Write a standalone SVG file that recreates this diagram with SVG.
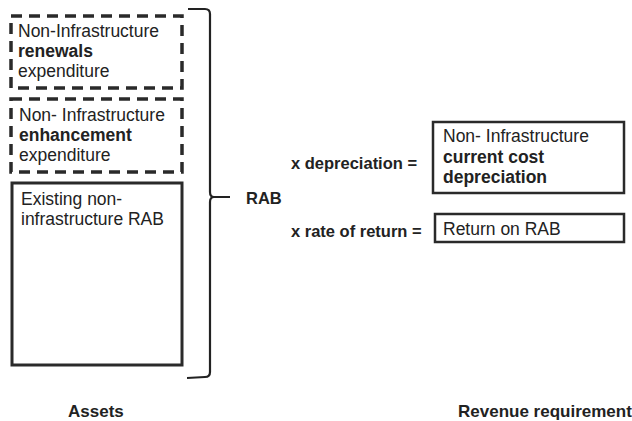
<svg xmlns="http://www.w3.org/2000/svg" width="632" height="421" viewBox="0 0 632 421">
<style>
text{font-family:"Liberation Sans",Arial,sans-serif;fill:#222;font-size:17.5px}
.b{font-weight:bold}
.lab{font-weight:bold;font-size:16.5px}
.dash{fill:none;stroke:#2a2a2a;stroke-width:3.5;stroke-dasharray:11 7}
.solid{fill:none;stroke:#2a2a2a;stroke-width:3}
.thin{fill:none;stroke:#2a2a2a;stroke-width:2.5}
.brace{fill:none;stroke:#222;stroke-width:2.2}
</style>
<rect width="632" height="421" fill="#fff"/>
<g id="renewals">
<rect class="dash" x="11" y="16" width="171" height="72"/>
<text x="18" y="37">Non-Infrastructure</text>
<text x="18" y="57" class="b">renewals</text>
<text x="18" y="77">expenditure</text>
</g>
<g id="enhancement">
<rect class="dash" x="11" y="99" width="171" height="73"/>
<text x="19" y="121">Non- Infrastructure</text>
<text x="19" y="141" class="b">enhancement</text>
<text x="19" y="161">expenditure</text>
</g>
<g id="existing">
<rect class="solid" x="12" y="183" width="170" height="182"/>
<text x="21" y="205">Existing non-</text>
<text x="21" y="225">infrastructure RAB</text>
</g>
<g id="connectors">
<path class="brace" d="M188 9 L205 9 Q210 9 210 14 L210 192 Q210 197 214 197 L230 197 M214 197 Q210 197 210 202 L210 372 Q210 377 205 377 L187 378"/>
</g>
<g id="rab">
<text x="246" y="204" class="lab">RAB</text>
</g>
<g id="labels">
<text x="291" y="169" class="lab">x depreciation =</text>
<text x="291" y="237" class="lab">x rate of return =</text>
</g>
<g id="ccd">
<rect class="thin" x="433" y="122" width="191" height="71"/>
<text x="443" y="142">Non- Infrastructure</text>
<text x="443" y="163" class="b">current cost</text>
<text x="443" y="183" class="b">depreciation</text>
</g>
<g id="return">
<rect class="thin" x="435" y="214" width="189" height="28"/>
<text x="443" y="235">Return on RAB</text>
</g>
<g id="footer">
<text x="68" y="417" class="b" style="font-size:17px">Assets</text>
<text x="458" y="417" class="b" style="font-size:17px">Revenue requirement</text>
</g>
</svg>
